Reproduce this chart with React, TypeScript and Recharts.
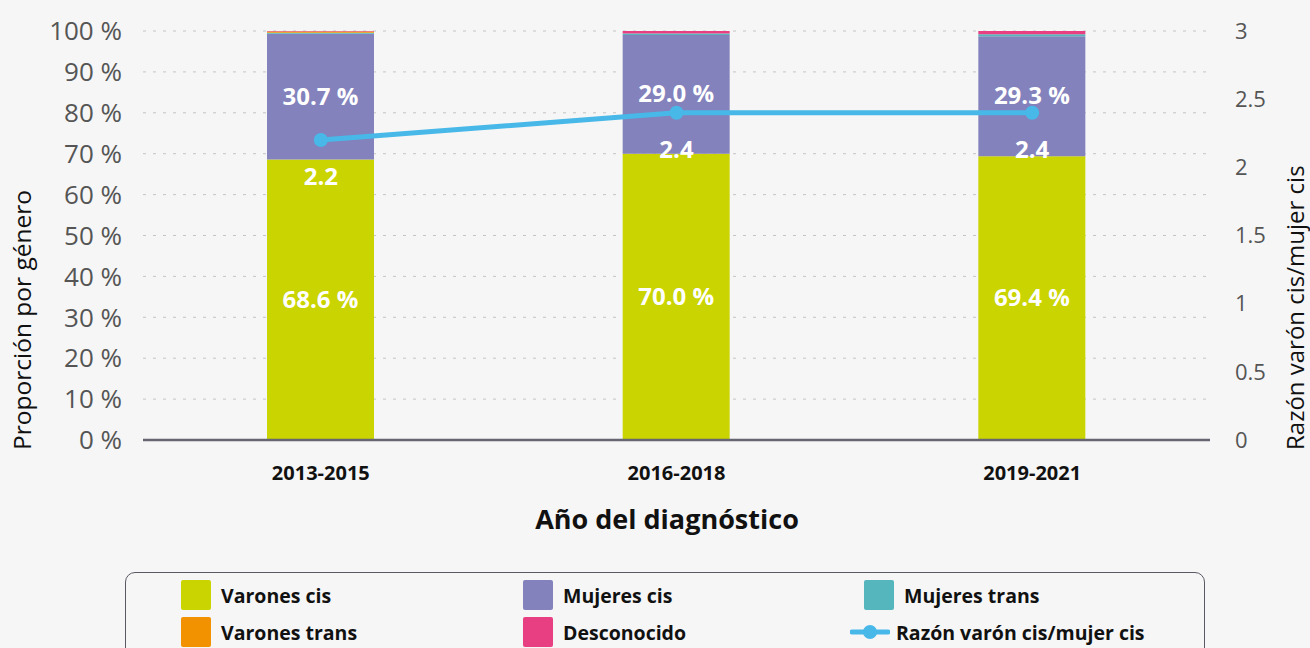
import React from 'react';
import {
  ComposedChart, Bar, Line, XAxis, YAxis, CartesianGrid, LabelList, Label,
} from 'recharts';

const categories = ['2013-2015', '2016-2018', '2019-2021'];
const varonesCis = [68.6, 70.0, 69.4];
const mujeresCis = [30.7, 29.0, 29.3];
const mujeresTrans = [0.3, 0.4, 0.5];
const varonesTrans = [0.3, 0.0, 0.0];
const desconocido = [0.1, 0.6, 0.8];
const razon = [2.2, 2.4, 2.4];
const leftTicks = [0, 10, 20, 30, 40, 50, 60, 70, 80, 90, 100];
const rightTicks = [0, 0.5, 1, 1.5, 2, 2.5, 3];

const C = {
  vc: '#cad400',
  mc: '#8382bc',
  mt: '#55b7bd',
  vt: '#f39200',
  de: '#e83e82',
  line: '#47b8e8',
};

const data = categories.map((c, i) => ({
  cat: c,
  vc: varonesCis[i],
  mc: mujeresCis[i],
  mt: mujeresTrans[i],
  vt: varonesTrans[i],
  de: desconocido[i],
  r: razon[i],
}));

const FONT = '"Open Sans", sans-serif';

const legendItems = [
  { name: 'Varones cis', color: C.vc, type: 'rect' },
  { name: 'Mujeres cis', color: C.mc, type: 'rect' },
  { name: 'Mujeres trans', color: C.mt, type: 'rect' },
  { name: 'Varones trans', color: C.vt, type: 'rect' },
  { name: 'Desconocido', color: C.de, type: 'rect' },
  { name: 'Razón varón cis/mujer cis', color: C.line, type: 'line' },
];

const barLabel = (props: any) => {
  const { x, y, width, height, value } = props;
  return (
    <text x={x + width / 2} y={y + height / 2 + 8} textAnchor="middle" fill="#fff"
      fontFamily={FONT} fontWeight={700} fontSize={24}>
      {`${Number(value).toFixed(1)} %`}
    </text>
  );
};

const lineLabel = (props: any) => {
  const { x, y, value } = props;
  return (
    <text x={x} y={y + 45} textAnchor="middle" fill="#fff"
      fontFamily={FONT} fontWeight={700} fontSize={24}>
      {Number(value).toFixed(1)}
    </text>
  );
};

export default function App() {
  const colX = [181, 523, 864];
  return (
    <div style={{ position: 'absolute', left: 0, top: 0, width: 1310, height: 648, background: '#f6f6f6', overflow: 'hidden' }}>
      <ComposedChart width={1310} height={648} data={data}
        margin={{ top: 31, right: 0, bottom: 178, left: 0 }} barCategoryGap={0}>
        <CartesianGrid yAxisId="l" vertical={false} stroke="#c4c4c4" strokeDasharray="3 7" />
        <XAxis dataKey="cat" height={30} tickLine={false} tickSize={0} tickMargin={26}
          axisLine={{ stroke: '#666672', strokeWidth: 2.5 }}
          tick={{ fill: '#111', fontFamily: FONT, fontWeight: 700, fontSize: 20 }}>
          <Label content={() => (
            <text x={667} y={529} textAnchor="middle" fill="#111" fontFamily={FONT} fontWeight={700} fontSize={27}>
              Año del diagnóstico
            </text>
          )} />
        </XAxis>
        <YAxis yAxisId="l" domain={[0, 100]} ticks={leftTicks} width={143} axisLine={false}
          tickLine={false} tickSize={0} tickMargin={21} interval={0}
          tickFormatter={(v: number) => `${v} %`}
          tick={{ fill: '#555', fontFamily: FONT, fontSize: 26 }}>
          <Label content={() => (
            <text x={31} y={450} transform="rotate(-90 31 450)" textAnchor="start" fill="#111" fontFamily={FONT} fontSize={24.5}>
              Proporción por género
            </text>
          )} />
        </YAxis>
        <YAxis yAxisId="r" orientation="right" domain={[0, 3]} ticks={rightTicks} width={100}
          axisLine={false} tickLine={false} tickSize={0} tickMargin={25} interval={0}
          tick={{ fill: '#555', fontFamily: FONT, fontSize: 22, textAnchor: 'start' }}>
          <Label content={() => (
            <text x={1304} y={450} transform="rotate(-90 1304 450)" textAnchor="start" fill="#111" fontFamily={FONT} fontSize={24}>
              Razón varón cis/mujer cis
            </text>
          )} />
        </YAxis>
        <Bar yAxisId="l" dataKey="vc" stackId="s" fill={C.vc} barSize={107} isAnimationActive={false}>
          <LabelList dataKey="vc" content={barLabel} />
        </Bar>
        <Bar yAxisId="l" dataKey="mc" stackId="s" fill={C.mc} barSize={107} isAnimationActive={false}>
          <LabelList dataKey="mc" content={barLabel} />
        </Bar>
        <Bar yAxisId="l" dataKey="mt" stackId="s" fill={C.mt} barSize={107} isAnimationActive={false} />
        <Bar yAxisId="l" dataKey="vt" stackId="s" fill={C.vt} barSize={107} isAnimationActive={false} />
        <Bar yAxisId="l" dataKey="de" stackId="s" fill={C.de} barSize={107} isAnimationActive={false} />
        <Line yAxisId="r" dataKey="r" stroke={C.line} strokeWidth={5}
          dot={{ r: 7, fill: C.line, stroke: C.line, strokeWidth: 0 }} activeDot={false}
          isAnimationActive={false}>
          <LabelList dataKey="r" content={lineLabel} />
        </Line>
      </ComposedChart>
      <div style={{
        position: 'absolute', left: 125, top: 572, width: 1080, height: 90,
        border: '1.5px solid #5a5a64', borderRadius: 10, boxSizing: 'border-box',
      }} />
      {legendItems.map((it, i) => {
        const col = i % 3;
        const row = Math.floor(i / 3);
        const cx = colX[col];
        const cy = row === 0 ? 595 : 632;
        return (
          <div key={it.name} style={{ position: 'absolute', left: cx, top: cy - 15, height: 30, display: 'flex', alignItems: 'center' }}>
            {it.type === 'rect' ? (
              <div style={{ width: 30, height: 30, background: it.color, borderRadius: 2 }} />
            ) : (
              <svg width={40} height={30} style={{ marginLeft: -14, marginRight: -4 }}>
                <line x1={2} y1={15} x2={38} y2={15} stroke={it.color} strokeWidth={5} strokeLinecap="round" />
                <circle cx={20} cy={15} r={7} fill={it.color} />
              </svg>
            )}
            <span style={{ marginLeft: 10, fontFamily: FONT, fontWeight: 700, fontSize: 19.5, color: '#111' }}>{it.name}</span>
          </div>
        );
      })}
    </div>
  );
}
